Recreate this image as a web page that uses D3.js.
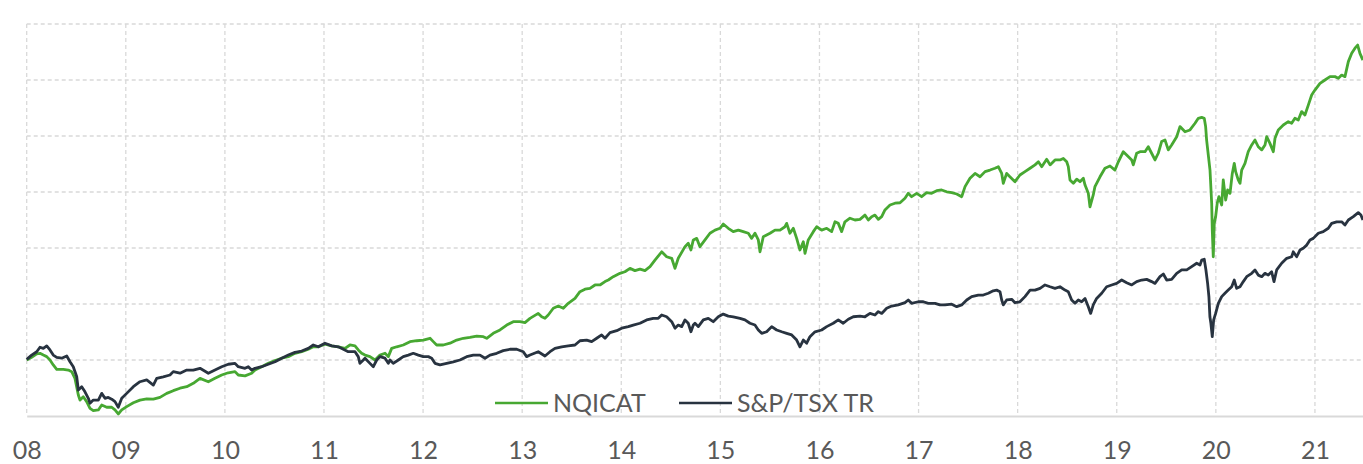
<!DOCTYPE html>
<html>
<head>
<meta charset="utf-8">
<script src="https://cdn.jsdelivr.net/npm/d3@7"></script>
<style>
  body { margin: 0; background: #fff; }
  svg { display: block; font-family: Lato, "Open Sans", sans-serif; }
</style>
</head>
<body>
<div id="view"><svg width="1363" height="464"></svg></div>
<script>
// index levels, [decimal year, value]
var nqicat = [
  [2008.000,100.0],[2008.050,101.2],[2008.101,102.7],[2008.134,103.0],[2008.168,102.2],[2008.202,101.5],
  [2008.235,100.0],[2008.268,97.8],[2008.303,95.8],[2008.369,95.8],[2008.420,95.5],[2008.454,94.8],
  [2008.487,91.8],[2008.521,84.4],[2008.538,82.1],[2008.571,83.6],[2008.605,81.4],[2008.639,78.4],
  [2008.672,77.4],[2008.723,77.7],[2008.757,79.9],[2008.807,78.9],[2008.858,78.9],[2008.891,77.7],
  [2008.924,75.9],[2008.959,77.7],[2009.009,79.2],[2009.076,80.9],[2009.143,82.1],[2009.211,82.6],
  [2009.278,82.5],[2009.345,83.3],[2009.413,85.1],[2009.479,86.3],[2009.547,87.4],[2009.615,88.1],
  [2009.681,89.6],[2009.749,91.8],[2009.833,90.3],[2009.900,91.8],[2009.968,93.3],[2010.034,94.3],
  [2010.102,94.8],[2010.135,93.3],[2010.203,92.9],[2010.270,94.1],[2010.304,95.5],[2010.371,97.0],
  [2010.438,98.5],[2010.506,99.7],[2010.573,100.8],[2010.640,101.5],[2010.707,103.0],[2010.775,103.7],
  [2010.842,104.8],[2010.892,105.9],[2010.943,105.9],[2011.010,107.1],[2011.078,106.3],[2011.144,105.9],
  [2011.212,105.2],[2011.262,106.7],[2011.313,106.3],[2011.346,104.5],[2011.380,103.0],[2011.414,102.2],
  [2011.464,101.5],[2011.515,100.0],[2011.565,102.2],[2011.616,103.0],[2011.649,101.5],[2011.683,105.2],
  [2011.734,105.9],[2011.800,106.7],[2011.868,108.2],[2011.936,108.6],[2012.002,108.9],[2012.070,109.7],
  [2012.103,108.2],[2012.137,106.7],[2012.204,106.7],[2012.272,107.5],[2012.339,108.9],[2012.406,109.7],
  [2012.473,110.1],[2012.541,110.7],[2012.608,110.4],[2012.642,109.7],[2012.708,111.9],[2012.776,113.4],
  [2012.844,115.6],[2012.910,117.1],[2012.978,117.1],[2013.028,116.7],[2013.079,118.6],[2013.162,120.8],
  [2013.197,119.3],[2013.230,118.6],[2013.263,120.1],[2013.314,123.1],[2013.364,124.1],[2013.415,123.1],
  [2013.465,125.3],[2013.533,127.5],[2013.583,130.5],[2013.634,131.6],[2013.684,132.0],[2013.735,133.5],
  [2013.785,133.5],[2013.836,135.0],[2013.869,135.7],[2013.919,137.2],[2013.987,138.7],[2014.037,139.4],
  [2014.088,140.9],[2014.138,139.9],[2014.189,140.6],[2014.239,139.9],[2014.290,141.7],[2014.340,144.6],
  [2014.408,148.3],[2014.458,146.1],[2014.509,145.4],[2014.542,140.9],[2014.575,145.4],[2014.643,150.6],
  [2014.676,152.1],[2014.703,149.1],[2014.727,153.6],[2014.761,154.3],[2014.794,150.6],[2014.845,153.6],
  [2014.895,156.6],[2014.946,158.0],[2014.996,158.8],[2015.029,160.7],[2015.080,158.8],[2015.130,157.3],
  [2015.181,158.0],[2015.231,157.3],[2015.282,156.6],[2015.316,154.3],[2015.349,156.6],[2015.383,153.6],
  [2015.400,148.3],[2015.433,155.0],[2015.501,156.6],[2015.551,158.0],[2015.602,158.0],[2015.652,159.5],
  [2015.669,161.0],[2015.702,156.6],[2015.736,158.8],[2015.770,154.3],[2015.803,149.1],[2015.837,152.8],
  [2015.854,147.6],[2015.887,153.6],[2015.938,157.3],[2015.972,159.5],[2016.022,158.0],[2016.073,158.8],
  [2016.123,157.3],[2016.157,161.7],[2016.190,161.0],[2016.224,157.3],[2016.257,161.7],[2016.308,163.3],
  [2016.358,162.5],[2016.409,162.8],[2016.459,164.7],[2016.493,162.5],[2016.527,164.0],[2016.560,164.7],
  [2016.594,162.8],[2016.628,164.0],[2016.661,167.0],[2016.712,169.2],[2016.762,170.0],[2016.813,170.2],
  [2016.863,172.2],[2016.896,174.4],[2016.930,172.9],[2016.981,174.4],[2017.031,172.9],[2017.082,174.7],
  [2017.132,174.4],[2017.183,175.6],[2017.233,175.9],[2017.284,175.1],[2017.334,174.7],[2017.385,174.1],
  [2017.435,172.9],[2017.469,177.4],[2017.519,181.1],[2017.570,183.3],[2017.620,181.8],[2017.671,184.1],
  [2017.721,184.8],[2017.771,185.6],[2017.805,186.3],[2017.839,183.3],[2017.855,178.9],[2017.889,183.3],
  [2017.922,181.8],[2017.973,179.6],[2018.023,182.6],[2018.074,184.1],[2018.125,185.6],[2018.175,187.1],
  [2018.209,188.5],[2018.243,186.3],[2018.293,189.6],[2018.327,187.1],[2018.377,189.3],[2018.427,189.3],
  [2018.461,190.0],[2018.495,188.5],[2018.511,186.3],[2018.528,180.4],[2018.562,178.9],[2018.596,180.7],
  [2018.629,179.6],[2018.663,181.1],[2018.680,178.1],[2018.713,174.4],[2018.730,168.4],[2018.763,173.7],
  [2018.780,177.4],[2018.831,181.8],[2018.881,185.6],[2018.932,186.6],[2018.982,184.8],[2019.016,188.5],
  [2019.066,193.0],[2019.100,191.5],[2019.151,189.3],[2019.167,187.1],[2019.201,192.3],[2019.235,193.0],
  [2019.285,193.0],[2019.318,195.2],[2019.352,192.3],[2019.386,189.3],[2019.419,192.3],[2019.453,197.5],
  [2019.487,198.2],[2019.520,193.8],[2019.554,196.0],[2019.605,199.7],[2019.638,204.2],[2019.689,201.9],
  [2019.739,202.7],[2019.790,205.7],[2019.823,207.9],[2019.857,208.3],[2019.883,207.9],[2019.897,204.2],
  [2019.907,198.2],[2019.924,191.5],[2019.941,184.8],[2019.958,170.0],[2019.964,158.0],[2019.974,146.1],
  [2019.984,161.0],[2019.998,164.0],[2020.014,170.0],[2020.031,172.9],[2020.059,169.2],[2020.075,180.4],
  [2020.099,171.4],[2020.119,175.9],[2020.143,174.4],[2020.166,183.3],[2020.186,187.8],[2020.200,184.1],
  [2020.226,180.4],[2020.244,178.9],[2020.261,184.8],[2020.294,187.8],[2020.327,193.0],[2020.362,196.0],
  [2020.395,198.2],[2020.428,195.2],[2020.463,193.8],[2020.496,196.0],[2020.513,199.7],[2020.546,196.7],
  [2020.580,193.0],[2020.597,199.0],[2020.630,202.7],[2020.681,204.9],[2020.731,206.4],[2020.765,205.7],
  [2020.798,207.9],[2020.832,207.1],[2020.866,210.9],[2020.899,209.4],[2020.933,213.8],[2020.967,218.3],
  [2021.000,220.5],[2021.051,223.5],[2021.101,225.0],[2021.152,226.5],[2021.202,226.5],[2021.236,225.8],
  [2021.270,227.2],[2021.303,226.5],[2021.337,233.2],[2021.371,236.9],[2021.404,239.2],[2021.431,240.6],
  [2021.454,236.9],[2021.484,233.9]
];

var tsxTR = [
  [2008.000,100.3],[2008.050,102.2],[2008.101,103.7],[2008.134,105.7],[2008.168,105.2],[2008.202,106.3],
  [2008.235,104.5],[2008.268,102.2],[2008.303,101.2],[2008.353,100.8],[2008.404,101.8],[2008.437,99.2],
  [2008.470,97.0],[2008.505,92.5],[2008.521,86.6],[2008.555,88.1],[2008.588,85.8],[2008.622,82.9],
  [2008.639,80.7],[2008.672,82.1],[2008.723,82.1],[2008.757,85.1],[2008.790,82.9],[2008.823,83.3],
  [2008.858,82.5],[2008.891,81.4],[2008.924,78.9],[2008.959,82.9],[2009.009,85.1],[2009.076,88.1],
  [2009.143,90.3],[2009.211,91.1],[2009.278,88.8],[2009.312,91.8],[2009.378,92.5],[2009.446,93.3],
  [2009.479,94.8],[2009.547,94.1],[2009.615,95.5],[2009.681,95.5],[2009.749,96.3],[2009.833,94.1],
  [2009.900,95.5],[2009.968,97.0],[2010.034,98.1],[2010.102,98.5],[2010.135,97.0],[2010.203,96.3],
  [2010.236,97.0],[2010.270,95.5],[2010.304,96.3],[2010.371,97.0],[2010.438,98.1],[2010.506,99.2],
  [2010.573,100.8],[2010.640,102.2],[2010.707,103.4],[2010.775,104.0],[2010.842,105.2],[2010.892,106.7],
  [2010.943,105.9],[2011.010,107.5],[2011.078,106.3],[2011.144,105.9],[2011.195,104.8],[2011.245,103.7],
  [2011.313,103.7],[2011.346,101.5],[2011.363,98.5],[2011.397,100.0],[2011.414,100.8],[2011.464,98.5],
  [2011.498,97.0],[2011.532,100.0],[2011.565,101.5],[2011.616,100.8],[2011.649,98.5],[2011.666,100.0],
  [2011.699,98.5],[2011.750,100.0],[2011.800,101.5],[2011.851,102.2],[2011.901,103.0],[2011.952,102.2],
  [2012.002,101.5],[2012.053,101.5],[2012.087,100.8],[2012.120,98.5],[2012.171,97.8],[2012.238,98.5],
  [2012.305,99.2],[2012.372,100.0],[2012.440,101.5],[2012.507,102.2],[2012.574,102.2],[2012.625,100.8],
  [2012.675,102.2],[2012.743,103.0],[2012.809,104.2],[2012.877,104.8],[2012.945,104.8],[2013.011,103.7],
  [2013.045,101.5],[2013.079,102.2],[2013.162,103.7],[2013.230,101.8],[2013.281,103.7],[2013.331,105.2],
  [2013.399,105.9],[2013.465,106.3],[2013.533,106.7],[2013.583,108.6],[2013.651,108.9],[2013.701,108.2],
  [2013.752,109.7],[2013.802,111.2],[2013.836,109.7],[2013.886,112.2],[2013.954,113.1],[2014.004,114.2],
  [2014.071,114.9],[2014.121,115.6],[2014.189,116.4],[2014.256,117.9],[2014.323,118.6],[2014.373,118.6],
  [2014.408,120.1],[2014.458,119.3],[2014.509,117.1],[2014.542,114.2],[2014.575,115.6],[2014.610,114.9],
  [2014.643,117.9],[2014.676,116.4],[2014.703,112.6],[2014.727,115.6],[2014.744,116.4],[2014.777,114.9],
  [2014.828,117.9],[2014.878,118.6],[2014.928,117.1],[2014.979,119.3],[2015.029,120.5],[2015.080,119.6],
  [2015.130,119.3],[2015.198,118.6],[2015.248,117.9],[2015.299,116.4],[2015.349,115.6],[2015.383,113.4],
  [2015.417,111.9],[2015.467,112.6],[2015.518,114.9],[2015.568,113.4],[2015.619,112.6],[2015.669,111.9],
  [2015.720,111.2],[2015.770,108.9],[2015.803,105.9],[2015.837,108.9],[2015.871,107.5],[2015.904,110.4],
  [2015.955,112.6],[2016.022,113.4],[2016.073,114.9],[2016.139,116.4],[2016.190,117.9],[2016.240,116.4],
  [2016.291,118.2],[2016.341,119.3],[2016.409,119.6],[2016.459,119.3],[2016.510,120.8],[2016.560,120.1],
  [2016.594,121.6],[2016.628,120.8],[2016.678,123.1],[2016.729,124.1],[2016.795,124.6],[2016.863,125.6],
  [2016.896,126.8],[2016.930,125.3],[2016.997,126.0],[2017.048,126.0],[2017.098,125.3],[2017.166,125.3],
  [2017.216,124.6],[2017.267,124.6],[2017.334,124.9],[2017.385,123.8],[2017.435,124.6],[2017.486,126.8],
  [2017.536,128.3],[2017.603,129.0],[2017.653,129.0],[2017.704,129.8],[2017.754,130.9],[2017.788,131.2],
  [2017.822,130.5],[2017.839,126.8],[2017.855,124.6],[2017.889,126.8],[2017.940,127.1],[2017.973,125.6],
  [2018.023,126.0],[2018.074,128.3],[2018.125,131.2],[2018.175,131.2],[2018.226,132.0],[2018.276,133.5],
  [2018.327,132.7],[2018.377,132.0],[2018.427,132.7],[2018.478,131.2],[2018.511,130.5],[2018.545,126.8],
  [2018.579,125.3],[2018.612,126.8],[2018.646,126.0],[2018.680,127.5],[2018.713,123.8],[2018.737,120.8],
  [2018.763,124.6],[2018.797,127.5],[2018.848,129.8],[2018.898,132.7],[2018.949,133.5],[2018.999,134.2],
  [2019.050,135.7],[2019.100,134.5],[2019.151,133.5],[2019.201,135.0],[2019.252,135.7],[2019.302,136.0],
  [2019.352,135.0],[2019.386,134.2],[2019.436,137.2],[2019.470,138.4],[2019.504,135.7],[2019.554,136.0],
  [2019.605,138.7],[2019.655,140.2],[2019.706,140.2],[2019.756,141.7],[2019.807,143.2],[2019.840,142.4],
  [2019.857,144.6],[2019.883,145.0],[2019.900,140.2],[2019.917,134.2],[2019.930,128.3],[2019.940,119.3],
  [2019.950,116.4],[2019.964,110.4],[2019.978,117.9],[2019.998,120.8],[2020.025,125.3],[2020.059,128.3],
  [2020.092,129.8],[2020.125,131.2],[2020.160,132.7],[2020.186,135.7],[2020.210,132.0],[2020.244,132.7],
  [2020.277,135.0],[2020.311,137.2],[2020.362,138.7],[2020.395,140.2],[2020.428,137.9],[2020.463,137.2],
  [2020.496,138.7],[2020.529,137.9],[2020.563,139.4],[2020.587,135.0],[2020.614,140.2],[2020.664,143.2],
  [2020.715,145.4],[2020.765,146.1],[2020.781,148.3],[2020.816,146.1],[2020.849,149.1],[2020.882,149.9],
  [2020.917,151.3],[2020.950,153.6],[2020.983,154.3],[2021.034,156.6],[2021.084,157.3],[2021.135,158.8],
  [2021.169,161.0],[2021.219,161.7],[2021.270,161.7],[2021.303,160.3],[2021.337,162.5],[2021.387,164.0],
  [2021.437,165.8],[2021.464,164.7],[2021.484,162.5]
];

var seriesNames = ["NQICAT", "S&P/TSX TR"];
var years = [2008, 2009, 2010, 2011, 2012, 2013, 2014, 2015, 2016, 2017, 2018, 2019, 2020, 2021];
var yearLabels = ["08", "09", "10", "11", "12", "13", "14", "15", "16", "17", "18", "19", "20", "21"];
var levelTicks = [100, 125, 150, 175, 200, 225, 250];

var svg = d3.select("#view > svg"),
    width = +svg.attr("width"),
    height = +svg.attr("height");

var green = "#47a832",
    navy = "#283340",
    grid = "#d9d9d9",
    ink = "#595959";

var x = d3.scaleLinear().domain([2008, 2021.485]).range([26.7, width]);
var y = d3.scaleLinear().domain([75, 250]).range([416, 24]);

// horizontal grid
svg.append("g")
    .selectAll("line")
    .data(levelTicks)
    .enter()
    .append("line")
    .attr("x1", x(2008))
    .attr("x2", width)
    .attr("y1", function(d) { return y(d); })
    .attr("y2", function(d) { return y(d); })
    .style("stroke", grid)
    .style("stroke-width", 1.3)
    .style("stroke-dasharray", "4,3");

// vertical grid
svg.append("g")
    .selectAll("line")
    .data(years)
    .enter()
    .append("line")
    .attr("x1", function(d) { return x(d); })
    .attr("x2", function(d) { return x(d); })
    .attr("y1", y(250))
    .attr("y2", y(75))
    .style("stroke", grid)
    .style("stroke-width", 1.3)
    .style("stroke-dasharray", "4,3");

// x axis
var xAxis = d3.axisBottom(x)
    .tickValues(years)
    .tickSize(0)
    .tickPadding(25)
    .tickFormat(function(d, i) { return yearLabels[i]; });

var gx = svg.append("g")
    .attr("transform", "translate(0," + y(75) + ")")
    .call(xAxis);
gx.select(".domain").style("stroke", grid).style("stroke-width", 2);
gx.selectAll("text")
    .style("font-family", "Lato, 'Open Sans', sans-serif")
    .style("font-size", "25px")
    .style("fill", ink);

var line = d3.line()
    .x(function(d) { return x(d[0]); })
    .y(function(d) { return y(d[1]); });

svg.append("path")
    .datum(nqicat)
    .attr("d", line)
    .style("fill", "none")
    .style("stroke", green)
    .style("stroke-width", 2.8)
    .style("stroke-linejoin", "round");

svg.append("path")
    .datum(tsxTR)
    .attr("d", line)
    .style("fill", "none")
    .style("stroke", navy)
    .style("stroke-width", 2.8)
    .style("stroke-linejoin", "round");

// legend
var legend = svg.append("g").attr("transform", "translate(495,403)");
var items = legend.selectAll("g")
    .data(seriesNames)
    .enter()
    .append("g")
    .attr("transform", function(d, i) { return "translate(" + (i * 184) + ",0)"; });

items.append("line")
    .attr("x1", 0)
    .attr("x2", 53)
    .style("stroke", function(d, i) { return i === 0 ? green : navy; })
    .style("stroke-width", 2.6);

items.append("text")
    .attr("x", 58)
    .attr("y", 9)
    .text(function(d) { return d; })
    .style("font-size", "25px")
    .style("fill", ink);
</script>
</body>
</html>
